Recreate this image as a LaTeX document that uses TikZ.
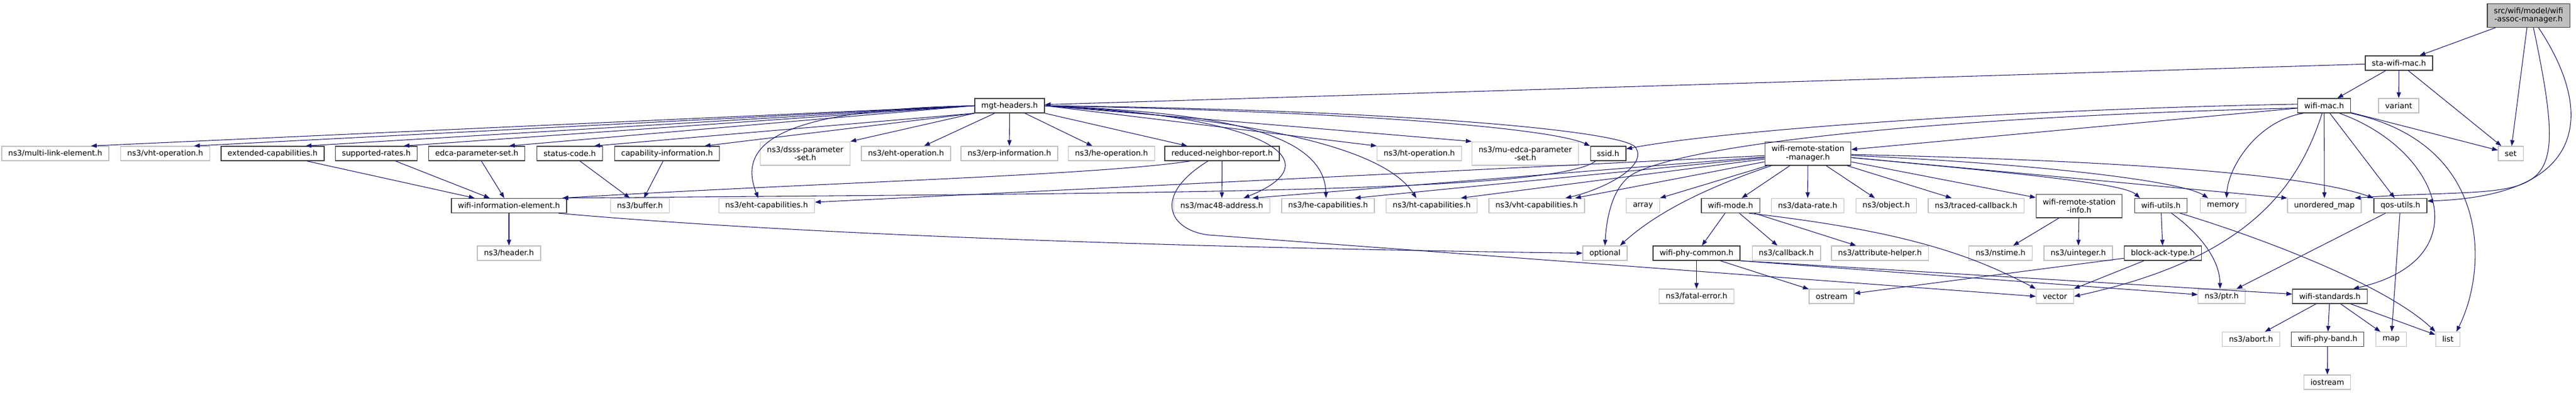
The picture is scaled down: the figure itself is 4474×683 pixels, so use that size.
\documentclass[tikz,border=0pt]{standalone}
\usepackage{fontspec}
\setmainfont{DejaVu Sans}
\usetikzlibrary{arrows.meta}
\definecolor{edgeblue}{HTML}{191970}
\definecolor{boxgray}{HTML}{BFBFBF}
\definecolor{boxdark}{HTML}{404040}

\begin{document}
\begin{tikzpicture}
	[x=0.75pt,y=-0.75pt,
	every node/.style={shape=rectangle,draw,line width=1pt,inner xsep=8.6pt,inner ysep=0pt,
		minimum height=18.75pt,align=center,font=\fontsize{10}{10.8}\selectfont},
	localnode/.style={draw=boxdark},
	sysnode/.style={draw=boxgray},
	rootnode/.style={draw=boxdark,fill=boxgray},
	twoline/.style={minimum height=30.5pt},
	dep/.style={draw=edgeblue,line width=0.8pt,-{Triangle[length=7.5pt,width=5.5pt]}}]
	\useasboundingbox (0,0) rectangle (4474,683);

	\node[rootnode,twoline] (assoc) at (4391.5,27) {src/wifi/model/wifi\\-assoc-manager.h};
	\node[localnode] (sta) at (4166.5,109.5) {sta-wifi-mac.h};
	\node[localnode] (mgt) at (1753.5,183.5) {mgt-headers.h};
	\node[localnode] (mac) at (4036.5,183.5) {wifi-mac.h};
	\node[sysnode] (variant) at (4166,183.5) {variant};

	\node[sysnode] (mle) at (96,266.5) {ns3/multi-link-element.h};
	\node[sysnode] (vho) at (287,266.5) {ns3/vht-operation.h};
	\node[localnode] (extcap) at (473.5,266.5) {extended-capabilities.h};
	\node[localnode] (suprates) at (653.5,266.5) {supported-rates.h};
	\node[localnode] (edca) at (828,266.5) {edca-parameter-set.h};
	\node[localnode] (status) at (989.5,266.5) {status-code.h};
	\node[localnode] (capinfo) at (1158.5,266.5) {capability-information.h};
	\node[sysnode,twoline] (dsss) at (1398.5,266.5) {ns3/dsss-parameter\\-set.h};
	\node[sysnode] (ehto) at (1573.5,266.5) {ns3/eht-operation.h};
	\node[sysnode] (erp) at (1753,266.5) {ns3/erp-information.h};
	\node[sysnode] (heo) at (1930.5,266.5) {ns3/he-operation.h};
	\node[localnode] (rnr) at (2122.5,266.5) {reduced-neighbor-report.h};
	\node[sysnode] (hto) at (2465,266.5) {ns3/ht-operation.h};
	\node[sysnode,twoline] (muedca) at (2649,266.5) {ns3/mu-edca-parameter\\-set.h};
	\node[localnode] (ssid) at (2793,266.5) {ssid.h};
	\node[localnode,twoline] (wrsm) at (3140,266.5) {wifi-remote-station\\-manager.h};
	\node[sysnode] (set) at (4360.5,266.5) {set};

	\node[localnode] (wie) at (884,357) {wifi-information-element.h};
	\node[sysnode] (buffer) at (1111.5,357) {ns3/buffer.h};
	\node[sysnode] (ehtc) at (1331.5,357) {ns3/eht-capabilities.h};
	\node[sysnode] (mac48) at (2122,357) {ns3/mac48-address.h};
	\node[sysnode] (hec) at (2306.5,357) {ns3/he-capabilities.h};
	\node[sysnode] (htc) at (2486.5,357) {ns3/ht-capabilities.h};
	\node[sysnode] (vhtc) at (2669,357) {ns3/vht-capabilities.h};
	\node[sysnode] (array) at (2853.5,357) {array};
	\node[localnode] (wmode) at (3005.5,357) {wifi-mode.h};
	\node[sysnode] (drate) at (3139.5,357) {ns3/data-rate.h};
	\node[sysnode] (object) at (3276,357) {ns3/object.h};
	\node[sysnode] (traced) at (3432,357) {ns3/traced-callback.h};
	\node[localnode,twoline] (wrsi) at (3611,357.5) {wifi-remote-station\\-info.h};
	\node[localnode] (wutils) at (3753,357) {wifi-utils.h};
	\node[sysnode] (memory) at (3861,357) {memory};
	\node[sysnode] (umap) at (4037,357) {unordered\_map};
	\node[localnode] (qos) at (4169,357) {qos-utils.h};

	\node[sysnode] (header) at (884,439.5) {ns3/header.h};
	\node[sysnode] (optional) at (2787.5,439.5) {optional};
	\node[localnode] (wpc) at (2946.5,439.5) {wifi-phy-common.h};
	\node[sysnode] (callback) at (3102.5,439.5) {ns3/callback.h};
	\node[sysnode] (attr) at (3265,439.5) {ns3/attribute-helper.h};
	\node[sysnode] (nstime) at (3474.5,439.5) {ns3/nstime.h};
	\node[sysnode] (uint) at (3609.5,439.5) {ns3/uinteger.h};
	\node[localnode] (bat) at (3756.5,439.5) {block-ack-type.h};

	\node[sysnode] (fatal) at (2946.5,514.5) {ns3/fatal-error.h};
	\node[sysnode] (ostream) at (3181,514.5) {ostream};
	\node[sysnode] (vector) at (3569,514.5) {vector};
	\node[sysnode] (ptr) at (3858.5,514.5) {ns3/ptr.h};
	\node[localnode] (wstd) at (4046.5,514.5) {wifi-standards.h};

	\node[sysnode] (abort) at (3909.5,589) {ns3/abort.h};
	\node[localnode] (band) at (4042.5,589) {wifi-phy-band.h};
	\node[sysnode] (map) at (4153,589) {map};
	\node[sysnode] (list) at (4251.5,589) {list};
	\node[sysnode] (iostream) at (4042,663.5) {iostream};

	\path
	\foreach \startNode/\endNode in {assoc/sta, assoc/set, sta/mgt, sta/mac, sta/variant, sta/set,
		mac/set, mac/umap, mac/qos, mac/wrsm, mgt/erp, extcap/wie, suprates/wie, edca/wie,
		status/buffer, capinfo/buffer, rnr/mac48, wie/header, wrsm/wmode, wrsm/drate,
		wrsm/object, wrsm/traced, wrsm/wrsi, wmode/wpc, wmode/callback, wmode/attr,
		wrsi/nstime, wrsi/uint, wutils/bat, qos/ptr, qos/map, bat/ostream, bat/vector,
		wpc/fatal, wpc/ostream, wstd/abort, wstd/band, wstd/map, wstd/list, band/iostream}
	{
		(\startNode) edge[dep] (\endNode)
	};

	\draw[dep] ([xshift=6.4pt]assoc.south) .. controls (4470,380) and (4420,320) .. ([xshift=-9pt]umap.north east);
	\draw[dep] ([xshift=13pt]assoc.south) .. controls (4510,200) and (4490,340) .. ([yshift=6pt]qos.east);

	\draw[dep] (mgt.west) -- ([xshift=46.5pt]mle.north);
	\draw[dep] (mgt.west) -- ([xshift=37.5pt]vho.north);
	\draw[dep] (mgt.west) -- ([xshift=43pt]extcap.north);
	\draw[dep] (mgt.west) -- ([xshift=35.6pt]suprates.north);
	\draw[dep] (mgt.west) -- ([xshift=42pt]edca.north);
	\draw[dep] (mgt.south west) -- ([xshift=32pt]status.north);
	\draw[dep] (mgt.south west) -- ([xshift=49pt]capinfo.north);
	\draw[dep] (mgt.south west) -- (dsss.north east);
	\draw[dep] ([xshift=-19.5pt]mgt.south) -- ([xshift=23.6pt]ehto.north);
	\draw[dep] ([xshift=20pt]mgt.south) -- ([xshift=-25pt]heo.north);
	\draw[dep] (mgt.south east) -- ([xshift=-45.4pt]rnr.north);
	\draw[dep] (mgt.east) -- (hto.north west);
	\draw[dep] (mgt.east) -- (muedca.north west);
	\draw[dep] (mgt.east) .. controls (2400,195) and (2700,225) .. (ssid.north west);
	\draw[dep] (mgt.east) .. controls (2400,190) and (2810,225) .. (2840,255)
		.. controls (2865,290) and (2780,330) .. ([xshift=37.5pt]vhtc.north);
	\draw[dep] (mgt.east) .. controls (2150,205) and (2400,250) .. ([xshift=-20pt]htc.north);
	\draw[dep] (mgt.east) .. controls (2100,195) and (2300,225) .. ([xshift=-2.6pt]hec.north);
	\draw[dep] (mgt.east) .. controls (2200,200) and (2320,280) .. ([xshift=28.5pt]mac48.north);
	\draw[dep] (mgt.west) .. controls (1350,190) and (1280,250) .. ([xshift=-10.9pt]ehtc.north);

	\draw[dep] ([xshift=-41.6pt]rnr.south) .. controls (1900,305) and (1400,318) .. ([xshift=-6pt]wie.north east);
	\draw[dep] ([xshift=-18.4pt]rnr.south) .. controls (2000,340) and (2030,400) .. (2100,408) -- (vector.west);
	\draw[dep] ([xshift=-16.5pt]ssid.south) .. controls (2700,335) and (2000,335) .. ([xshift=-6pt]wie.north east);
	\draw[dep] ([xshift=-11pt]wie.south east) .. controls (1300,400) and (1900,428) .. (optional.west);

	\draw[dep] ([yshift=2pt]mac.west) .. controls (3500,190) and (3000,225) .. ([yshift=6pt]ssid.east);
	\draw[dep] ([yshift=-3pt]mac.west) .. controls (3300,205) and (2930,255) .. (2840,300)
		.. controls (2800,320) and (2790,380) .. (optional.north);
	\draw[dep] ([xshift=-27pt]mac.south) .. controls (3920,210) and (3870,290) .. ([xshift=4.5pt]memory.north);
	\draw[dep] ([xshift=-2.6pt]mac.south) .. controls (3990,330) and (3900,450) .. (vector.east);
	\draw[dep] ([xshift=20pt]mac.south) .. controls (4240,260) and (4310,450) .. ([xshift=30.4pt]wstd.north);
	\draw[dep] (mac.south east) .. controls (4330,250) and (4320,470) .. ([xshift=11pt]list.north);

	\draw[dep] (wrsm) .. controls (3550,305) and (3690,320) .. ([xshift=7.5pt]wutils.north west);
	\draw[dep] (wrsm) .. controls (3550,285) and (3790,315) .. ([xshift=-19.5pt]memory.north);
	\draw[dep] (wrsm) -- (umap.north west);
	\draw[dep] (wrsm) .. controls (3650,278) and (4000,300) .. (qos.north west);
	\draw[dep] (wrsm) -- (array.north east);
	\draw[dep] (wrsm) .. controls (2950,330) and (2870,375) .. ([xshift=-9.75pt]optional.north east);
	\draw[dep] (wrsm) -- ([xshift=-12.75pt]vhtc.north east);
	\draw[dep] (wrsm) -- ([xshift=38pt]htc.north);
	\draw[dep] (wrsm) -- ([xshift=35pt]hec.north);
	\draw[dep] (wrsm) -- ([xshift=40pt]mac48.north);
	\draw[dep] (wrsm) -- ([yshift=4.5pt]ehtc.east);

	\draw[dep] ([xshift=24pt]wmode.south) .. controls (3300,400) and (3420,440) .. (vector.north west);
	\draw[dep] (wutils) .. controls (3820,405) and (3855,450) .. ([xshift=-2pt]ptr.north);
	\draw[dep] ([xshift=25pt]wutils.south) .. controls (3950,420) and (4150,500) .. (list.north west);
	\draw[dep] (wpc.south east) -- (wstd);
	\draw[dep] (wpc.south east) -- (ptr);
\end{tikzpicture}
\end{document}
